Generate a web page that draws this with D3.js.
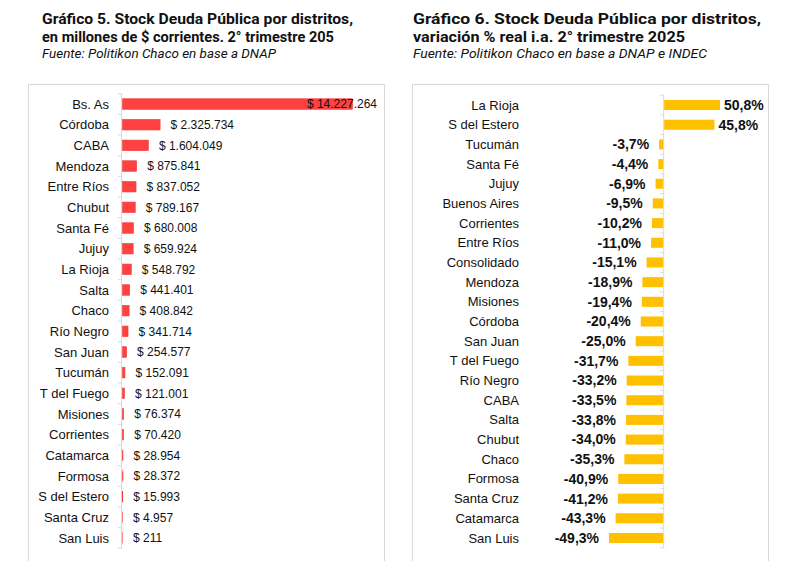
<!DOCTYPE html>
<html>
<head>
<meta charset="utf-8">
<script src="https://cdn.jsdelivr.net/npm/d3@7"></script>
<style>
  html, body { margin: 0; padding: 0; background: #fff; }
  svg { display: block; }
</style>
</head>
<body>
<svg id="chart" width="800" height="561"></svg>
<script>
// ---- Data: Gráfico 5 ----
const stockDistricts = ["Bs. As", "Córdoba", "CABA", "Mendoza", "Entre Ríos", "Chubut", "Santa Fé", "Jujuy", "La Rioja", "Salta", "Chaco", "Río Negro", "San Juan", "Tucumán", "T del Fuego", "Misiones", "Corrientes", "Catamarca", "Formosa", "S del Estero", "Santa Cruz", "San Luis"];
const stockValues = [14227264, 2325734, 1604049, 875841, 837052, 789167, 680008, 659924, 548792, 441401, 408842, 341714, 254577, 152091, 121001, 76374, 70420, 28954, 28372, 15993, 4957, 211];

// ---- Data: Gráfico 6 ----
const varDistricts = ["La Rioja", "S del Estero", "Tucumán", "Santa Fé", "Jujuy", "Buenos Aires", "Corrientes", "Entre Ríos", "Consolidado", "Mendoza", "Misiones", "Córdoba", "San Juan", "T del Fuego", "Río Negro", "CABA", "Salta", "Chubut", "Chaco", "Formosa", "Santa Cruz", "Catamarca", "San Luis"];
const varValues = [50.8, 45.8, -3.7, -4.4, -6.9, -9.5, -10.2, -11.0, -15.1, -18.9, -19.4, -20.4, -25.0, -31.7, -33.2, -33.5, -33.8, -34.0, -35.3, -40.9, -41.2, -43.3, -49.3];

const title5 = ["Gráfico 5. Stock Deuda Pública por distritos,", "en millones de $ corrientes. 2° trimestre 205"];
const source5 = "Fuente: Politikon Chaco en base a DNAP";
const title6 = ["Gráfico 6. Stock Deuda Pública por distritos,", "variación % real i.a. 2° trimestre 2025"];
const source6 = "Fuente: Politikon Chaco en base a DNAP e INDEC";

const svg = d3.select("#chart");
svg.append("rect").attr("width", 800).attr("height", 561).attr("fill", "#fff");

const FONT = "'Liberation Sans', Arial, sans-serif";
const TFONT = "Roboto, 'Liberation Sans', Arial, sans-serif";

function titles(x, lines, lens, src, srcLen) {
  const g = svg.append("g");
  lines.forEach((t, i) => {
    g.append("text").attr("x", x).attr("y", 24 + i * 17.5)
      .attr("font-family", TFONT).attr("font-weight", "bold").attr("font-size", 14.5)
      .attr("fill", "#111")
      .attr("textLength", lens[i]).attr("lengthAdjust", "spacingAndGlyphs")
      .text(t);
  });
  g.append("text").attr("x", x).attr("y", 57.5)
    .attr("font-family", TFONT).attr("font-style", "italic").attr("font-size", 13)
    .attr("fill", "#111")
    .attr("textLength", srcLen).attr("lengthAdjust", "spacingAndGlyphs")
    .text(src);
}

titles(42, title5, [311, 292], source5, 234);
titles(413, title6, [348, 272], source6, 294);

// panel boxes
svg.append("rect").attr("x", 28.5).attr("y", 84.5).attr("width", 356).attr("height", 500)
  .attr("fill", "none").attr("stroke", "#d9d9d9").attr("stroke-width", 1);
svg.append("rect").attr("x", 412.5).attr("y", 84.5).attr("width", 356).attr("height", 500)
  .attr("fill", "none").attr("stroke", "#d9d9d9").attr("stroke-width", 1);

// ---- Chart 5 ----
{
  const y = d3.scaleBand().domain(stockDistricts).range([93.7, 548.3]).paddingInner(0.49).paddingOuter(0.245);
  const x = d3.scaleLinear().domain([0, d3.max(stockValues)]).range([122, 352]);
  const g = svg.append("g");
  g.append("line").attr("x1", 121.5).attr("x2", 121.5).attr("y1", 93.7).attr("y2", 548.3)
    .attr("stroke", "#d9d9d9");
  const bounds = d3.range(stockDistricts.length + 1).map(i => 93.7 + i * (548.3 - 93.7) / stockDistricts.length);
  g.selectAll(".tk").data(bounds).join("line")
    .attr("x1", 118).attr("x2", 121.5).attr("y1", d => d).attr("y2", d => d)
    .attr("stroke", "#d9d9d9");
  g.selectAll(".bar").data(stockValues).join("rect")
    .attr("x", x(0) + 0.5)
    .attr("y", (d, i) => y(stockDistricts[i]))
    .attr("width", d => Math.max(0, x(d) - x(0)))
    .attr("height", y.bandwidth())
    .attr("fill", "#ff4141").attr("stroke", "#f03a3a").attr("stroke-width", 0.6);
  g.selectAll(".cat").data(stockDistricts).join("text")
    .attr("x", 109).attr("y", d => y(d) + y.bandwidth() / 2)
    .attr("dy", "0.35em").attr("text-anchor", "end")
    .attr("font-family", FONT).attr("font-size", 13).attr("fill", "#111")
    .text(d => d);
  const fmt = v => "$ " + d3.format(",")(v).replace(/,/g, ".");
  g.selectAll(".val").data(stockValues).join("text")
    .attr("x", (d, i) => i === 0 ? 377 : x(d) + 11)
    .attr("text-anchor", (d, i) => i === 0 ? "end" : "start")
    .attr("y", (d, i) => y(stockDistricts[i]) + y.bandwidth() / 2)
    .attr("dy", "0.35em")
    .attr("font-family", FONT).attr("font-size", 12).attr("fill", "#111")
    .text(d => fmt(d));
}

// ---- Chart 6 ----
{
  const y = d3.scaleBand().domain(varDistricts).range([95.2, 547.8]).paddingInner(0.49).paddingOuter(0.245);
  const x = d3.scaleLinear().domain([d3.min(varValues), d3.max(varValues)]).range([609, 719]);
  const g = svg.append("g");
  g.append("line").attr("x1", x(0) + 0.5).attr("x2", x(0) + 0.5).attr("y1", 95.2).attr("y2", 547.8)
    .attr("stroke", "#d9d9d9");
  const n = varDistricts.length;
  const bounds = d3.range(n + 1).map(i => 95.2 + i * (547.8 - 95.2) / n);
  g.selectAll(".tk").data(bounds).join("line")
    .attr("x1", x(0) - 3).attr("x2", x(0) + 0.5).attr("y1", d => d).attr("y2", d => d)
    .attr("stroke", "#d9d9d9");
  g.selectAll(".bar").data(varValues).join("rect")
    .attr("x", d => Math.min(x(0), x(d)) + (d > 0 ? 1 : 0))
    .attr("y", (d, i) => y(varDistricts[i]))
    .attr("width", d => Math.abs(x(d) - x(0)))
    .attr("height", y.bandwidth())
    .attr("fill", "#ffc000");
  g.selectAll(".cat").data(varDistricts).join("text")
    .attr("x", 519).attr("y", d => y(d) + y.bandwidth() / 2)
    .attr("dy", "0.35em").attr("text-anchor", "end")
    .attr("font-family", FONT).attr("font-size", 13).attr("fill", "#111")
    .text(d => d);
  const fmt = v => d3.format(".1f")(v).replace(".", ",").replace("−", "-") + "%";
  g.selectAll(".val").data(varValues).join("text")
    .attr("x", d => d > 0 ? x(d) + 5 : x(d) - 10)
    .attr("text-anchor", d => d > 0 ? "start" : "end")
    .attr("y", (d, i) => y(varDistricts[i]) + y.bandwidth() / 2)
    .attr("dy", "0.35em")
    .attr("font-family", FONT).attr("font-weight", "bold").attr("font-size", 14).attr("fill", "#111")
    .text(d => fmt(d));
}
</script>
</body>
</html>
